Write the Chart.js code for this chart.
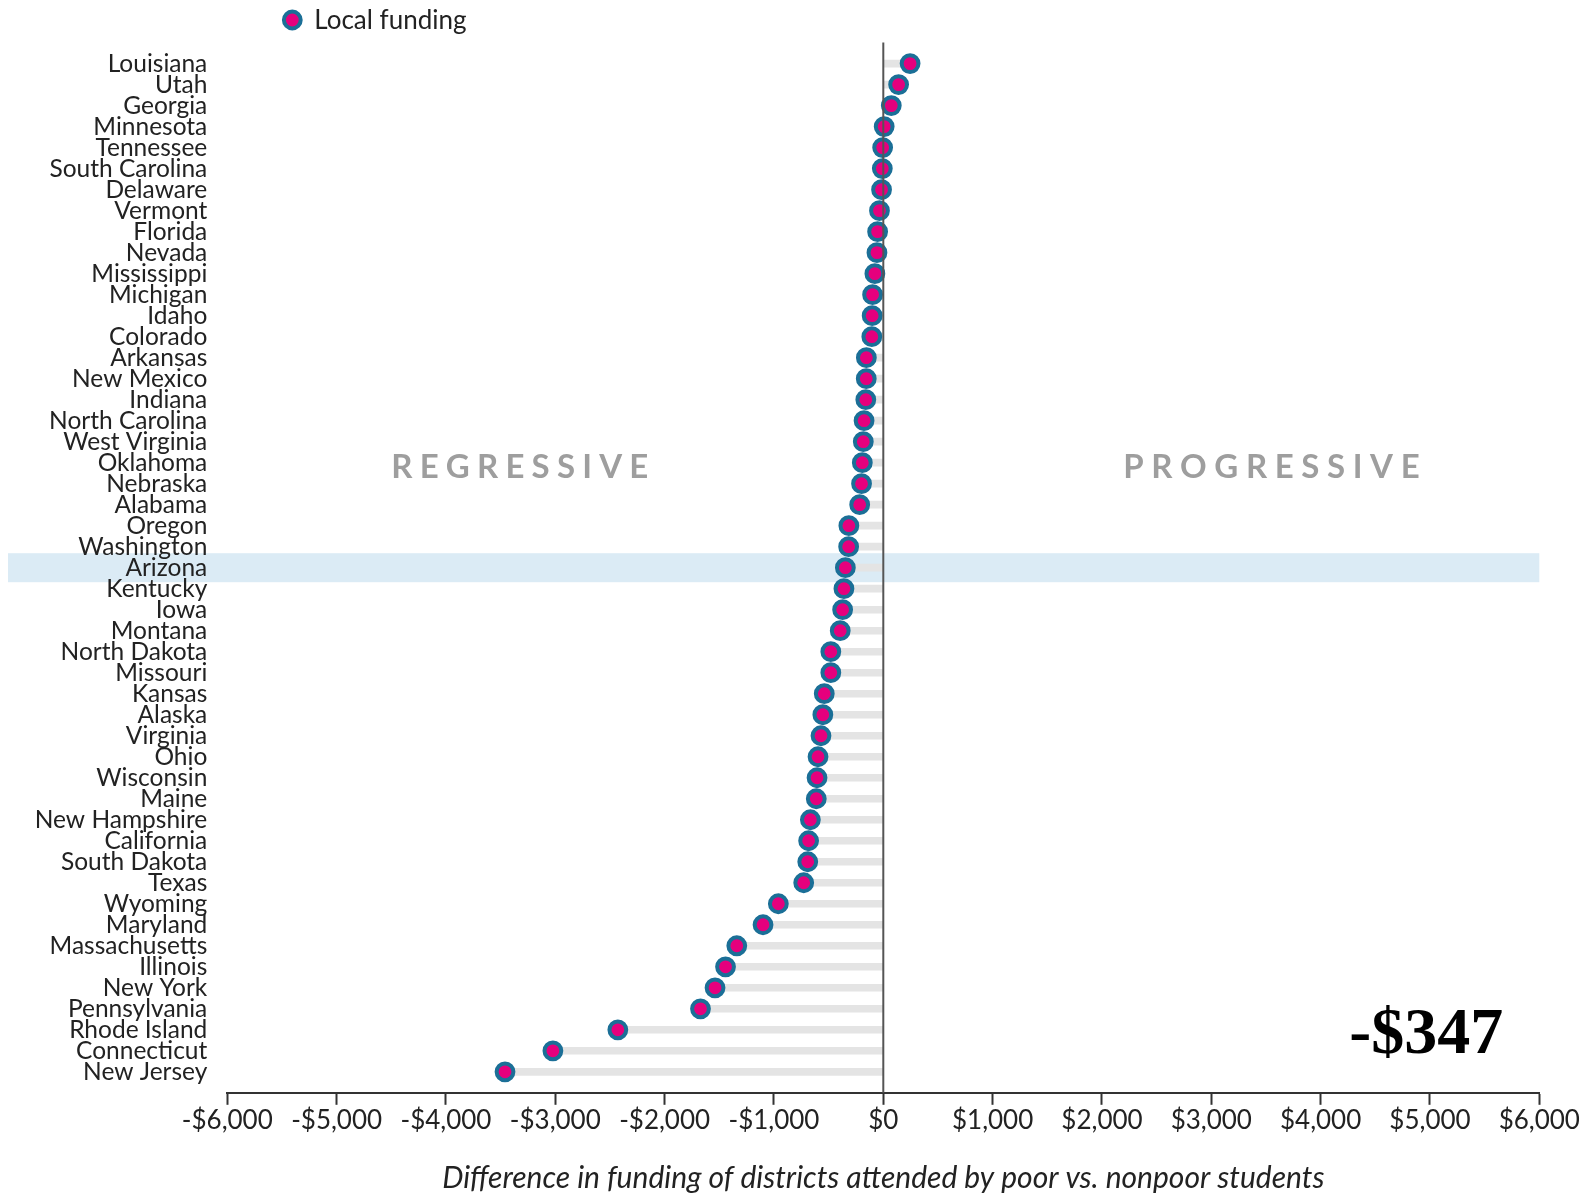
<!DOCTYPE html>
<html><head><meta charset="utf-8">
<script src="https://cdn.jsdelivr.net/npm/chart.js@4.4.1/dist/chart.umd.min.js"></script>
<style>html,body{margin:0;padding:0;background:#fff;overflow:hidden}</style>
</head><body><canvas id="c" width="1591" height="1193"></canvas>
<script>
const states = ['Louisiana','Utah','Georgia','Minnesota','Tennessee','South Carolina','Delaware','Vermont','Florida','Nevada','Mississippi','Michigan','Idaho','Colorado','Arkansas','New Mexico','Indiana','North Carolina','West Virginia','Oklahoma','Nebraska','Alabama','Oregon','Washington','Arizona','Kentucky','Iowa','Montana','North Dakota','Missouri','Kansas','Alaska','Virginia','Ohio','Wisconsin','Maine','New Hampshire','California','South Dakota','Texas','Wyoming','Maryland','Massachusetts','Illinois','New York','Pennsylvania','Rhode Island','Connecticut','New Jersey'];
const localFunding = [245,140,73,8,-6,-9,-16,-35,-52,-58,-77,-98,-102,-105,-155,-156,-160,-176,-183,-192,-199,-216,-315,-317,-347,-360,-372,-394,-480,-480,-540,-553,-570,-597,-606,-613,-667,-683,-691,-728,-960,-1100,-1340,-1443,-1539,-1672,-2428,-3022,-3460];
const xTickValues = [-6000,-5000,-4000,-3000,-2000,-1000,0,1000,2000,3000,4000,5000,6000];
const highlightState = 'Arizona';
const highlightText = '-$347';
const legendText = 'Local funding';
const axisTitle = 'Difference in funding of districts attended by poor vs. nonpoor students';
const zoneLabels = ['REGRESSIVE','PROGRESSIVE'];

const MAGENTA = '#e5007d', TEAL = '#1b6f97', TXT = '#222222';
const points = localFunding.map((v,i)=>({x:v,y:i}));

function money(v){ const s='$'+Math.abs(v).toLocaleString('en-US'); return v<0?'-'+s:s; }

function spaced(ctx, text, cx, cy, spacing){
  let w=0; const ws=[...text].map(ch=>{const m=ctx.measureText(ch).width; w+=m; return m;});
  w += spacing*(text.length-1);
  let x = cx - w/2;
  ctx.textAlign='left';
  [...text].forEach((ch,i)=>{ctx.fillText(ch,x,cy); x+=ws[i]+spacing;});
}

const deco = {
  id:'deco',
  beforeDraw(chart){
    const {ctx, chartArea, scales} = chart;
    const y = scales.y.getPixelForValue(states.indexOf(highlightState));
    ctx.save(); ctx.fillStyle='#dbebf5';
    ctx.fillRect(8, y-14.5, chartArea.right-8, 29);
    ctx.restore();
  },
  beforeDatasetsDraw(chart){
    const {ctx, scales} = chart;
    ctx.save();
    ctx.fillStyle='#9e9e9e'; ctx.font='bold 33px Lato'; ctx.textBaseline='middle';
    const yy = scales.y.getPixelForValue(19.2);
    spaced(ctx, zoneLabels[0], scales.x.getPixelForValue(-3325), yy, 7.2);
    spaced(ctx, zoneLabels[1], scales.x.getPixelForValue(3550), yy, 7.6);
    ctx.restore();
  },
  afterDatasetsDraw(chart){
    const {ctx, chartArea, scales} = chart;
    const x = scales.x.getPixelForValue(0);
    ctx.save(); ctx.strokeStyle='#555'; ctx.lineWidth=2;
    ctx.beginPath(); ctx.moveTo(x, chartArea.top); ctx.lineTo(x, chartArea.bottom); ctx.stroke();
    ctx.restore();
  },
  afterDraw(chart){
    const {ctx, chartArea, scales} = chart;
    ctx.save();
    const lx = chartArea.left + 65, ly = 20;
    ctx.beginPath(); ctx.arc(lx, ly, 8.4, 0, Math.PI*2);
    ctx.fillStyle=MAGENTA; ctx.fill(); ctx.lineWidth=4; ctx.strokeStyle=TEAL; ctx.stroke();
    ctx.fillStyle=TXT; ctx.font='26px Lato'; ctx.textBaseline='middle'; ctx.textAlign='left';
    ctx.fillText(legendText, lx+22, ly+1);
    ctx.font='bold 66px "Liberation Serif"'; ctx.fillStyle='#000'; ctx.textAlign='center'; ctx.textBaseline='alphabetic';
    ctx.fillText(highlightText, scales.x.getPixelForValue(4965), scales.y.getPixelForValue(47.1));
    ctx.restore();
  }
};

new Chart(document.getElementById('c'), {
  type:'bar',
  data:{ datasets:[
    { type:'scatter', label:legendText, data:points, pointRadius:8.4, pointHoverRadius:8.4, borderWidth:4,
      backgroundColor:MAGENTA, borderColor:TEAL, order:0 },
    { type:'bar', label:'stem', data:points, backgroundColor:'#e4e4e4', borderWidth:0, barThickness:7, order:1 }
  ]},
  options:{
    indexAxis:'y', responsive:false, animation:false, devicePixelRatio:1,
    layout:{ padding:{ top:42.6, right:51.7, bottom:0, left:0 } },
    plugins:{ legend:{display:false}, tooltip:{enabled:false} },
    scales:{
      x:{ type:'linear', min:xTickValues[0], max:xTickValues[xTickValues.length-1], offset:false,
        afterBuildTicks: s => { s.ticks = xTickValues.map(v=>({value:v})); },
        afterFit: s => { s.height = 100.2; },
        ticks:{ callback: v => money(v), font:{family:'Lato', size:26}, color:TXT, padding:0, maxRotation:0, autoSkip:false },
        grid:{ drawOnChartArea:false, drawTicks:true, tickLength:12, tickColor:'#333', tickWidth:2 },
        border:{ display:true, color:'#333', width:2 },
        title:{ display:true, text:axisTitle, font:{family:'Lato', size:30, style:'italic', lineHeight:1}, color:TXT, padding:0 }
      },
      y:{ type:'linear', reverse:true, min:-1, max:states.length, offset:false,
        afterBuildTicks: s => { s.ticks = states.map((_,i)=>({value:i})); },
        afterFit: s => { s.width = 227.3; },
        ticks:{ callback: v => states[v] ?? '', font:{family:'Lato', size:24.5, lineHeight:1}, color:TXT, padding:20, autoSkip:false },
        grid:{ display:false, drawTicks:false, offset:false },
        border:{ display:false }
      }
    }
  },
  plugins:[deco]
});
</script></body></html>
